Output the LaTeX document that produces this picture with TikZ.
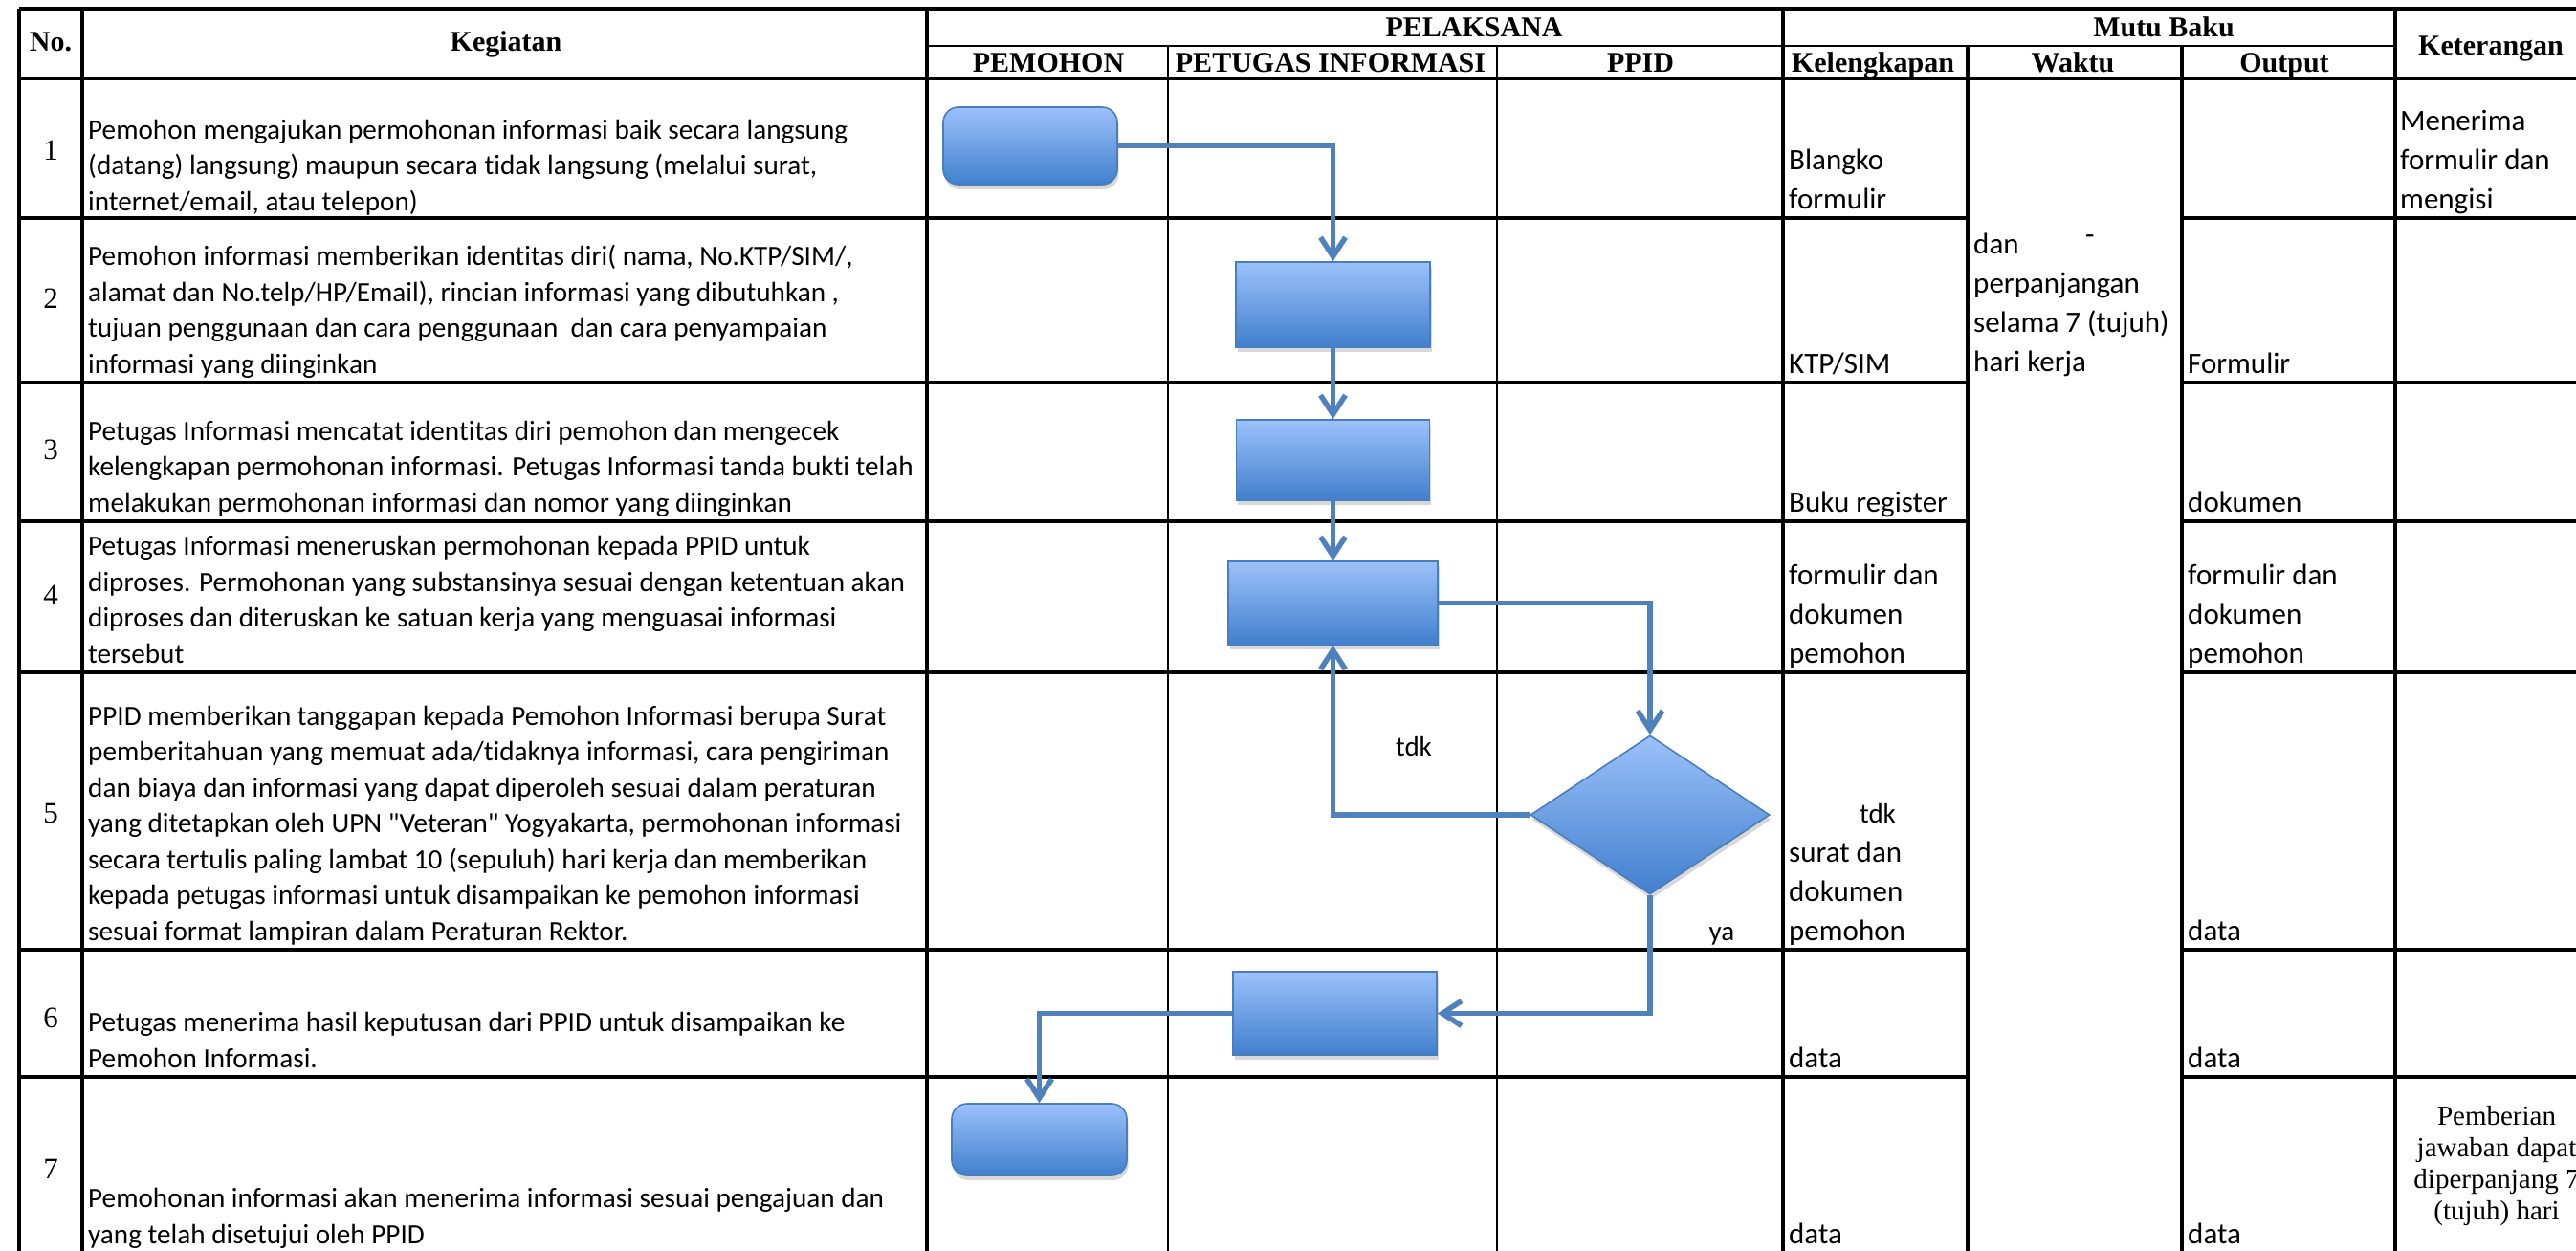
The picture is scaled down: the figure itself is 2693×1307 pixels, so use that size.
\documentclass[tikz,border=0pt]{standalone}
\usepackage{fontspec}
\setmainfont{Carlito}
\newfontfamily\calib{Carlito}[Ligatures=CommonOff]
\newfontfamily\tnr{Liberation Serif}
\usetikzlibrary{arrows.meta,shapes.geometric,shadows}
\definecolor{boxtop}{RGB}{155,193,250}
\definecolor{boxbot}{RGB}{65,127,205}
\definecolor{boxline}{RGB}{74,126,187}
\definecolor{arrowc}{RGB}{79,129,189}
\begin{document}
\begin{tikzpicture}[x=1pt,y=-1pt,
  gridline/.style={line width=3.5pt, black},
  thingrid/.style={line width=2.4pt, black},
  keg/.style={font=\calib\fontsize{29.2}{37.5}\selectfont, align=left, anchor=base west, inner sep=0pt},
  mutu/.style={font=\calib\fontsize{31}{41}\selectfont, align=left, anchor=base west, inner sep=0pt},
  hdr/.style={font=\tnr\bfseries\fontsize{30}{36}\selectfont, anchor=base, inner sep=0pt},
  num/.style={font=\tnr\fontsize{31}{36}\selectfont, anchor=center, inner sep=0pt},
  ket/.style={font=\tnr\fontsize{29}{33}\selectfont, align=center, anchor=base, inner sep=0pt},
  lbl/.style={font=\calib\fontsize{29}{35}\selectfont, anchor=base, inner sep=0pt},
  procbox/.style={rectangle, draw=boxline, line width=1.6pt, top color=boxtop, bottom color=boxbot,
    drop shadow={shadow xshift=1.5pt, shadow yshift=-5pt, opacity=0.3}, inner sep=0pt},
  roundbox/.style={procbox, rounded corners=16pt},
  decbox/.style={diamond, draw=boxline, line width=1.6pt, top color=boxtop, bottom color=boxbot,
    drop shadow={shadow xshift=1.5pt, shadow yshift=-5pt, opacity=0.3}, inner sep=0pt,
    aspect=1.506, minimum width=250pt, minimum height=166pt},
  conn/.style={draw=arrowc, line width=5.5pt, -{Straight Barb[length=20pt,width=26pt]}}
]
\useasboundingbox (0,0) rectangle (2693,1307);
\fill[white] (0,0) rectangle (2693,1307);
\begin{scope}
\clip (0,0) rectangle (2693,1307);
% ---- table grid ----
\draw[gridline] (20,9) -- (2720,9);
\draw[thingrid] (969,48) -- (2504,48);
\draw[gridline] (20,82) -- (2720,82);
\foreach \yy in {228,400,545,703,993,1126}{
  \draw[gridline] (20,\yy) -- (2057,\yy);
  \draw[gridline] (2281,\yy) -- (2720,\yy);
}
\draw[gridline] (20,9) -- (20,1330);
\draw[gridline] (86,9) -- (86,1330);
\draw[gridline] (969,9) -- (969,1330);
\draw[thingrid] (1221,48) -- (1221,1330);
\draw[thingrid] (1565,48) -- (1565,1330);
\draw[gridline] (1864,9) -- (1864,1330);
\draw[gridline] (2057,48) -- (2057,1330);
\draw[gridline] (2281,48) -- (2281,1330);
\draw[gridline] (2504,9) -- (2504,1330);
% ---- headers ----
\node[hdr] (hno) at (53,53) {No.};
\node[hdr] (hkeg) at (529,53) {Kegiatan};
\node[hdr] (hpel) at (1541,38) {PELAKSANA};
\node[hdr] (hpem) at (1096,75) {PEMOHON};
\node[hdr] (hpet) at (1391,75) {PETUGAS INFORMASI};
\node[hdr] (hppid) at (1715,75) {PPID};
\node[hdr] (hmutu) at (2262,38) {Mutu Baku};
\node[hdr] (hkel) at (1958,75) {Kelengkapan};
\node[hdr] (hwak) at (2167,75) {Waktu};
\node[hdr] (hout) at (2388,75) {Output};
\node[hdr] (hket) at (2604,57) {Keterangan};
% ---- row numbers ----
\node[num] (n1) at (53,157) {1};
\node[num] (n2) at (53,312) {2};
\node[num] (n3) at (53,470) {3};
\node[num] (n4) at (53,622) {4};
\node[num] (n5) at (53,850) {5};
\node[num] (n6) at (53,1064) {6};
\node[num] (n7) at (53,1222) {7};
% ---- kegiatan (anchor = baseline of last line) ----
\node[keg] (k1) at (92,220) {Pemohon mengajukan permohonan informasi baik secara langsung\\(datang) langsung) maupun secara tidak langsung (melalui surat,\\internet/email, atau telepon)};
\node[keg] (k2) at (92,390) {Pemohon informasi memberikan identitas diri( nama, No.KTP/SIM/,\\alamat dan No.telp/HP/Email), rincian informasi yang dibutuhkan ,\\tujuan penggunaan dan cara penggunaan\ \ dan cara penyampaian\\informasi yang diinginkan};
\node[keg] (k3) at (92,535) {Petugas Informasi mencatat identitas diri pemohon dan mengecek\\kelengkapan permohonan informasi. Petugas Informasi tanda bukti telah\\melakukan permohonan informasi dan nomor yang diinginkan};
\node[keg] (k4) at (92,693) {Petugas Informasi meneruskan permohonan kepada PPID untuk\\diproses. Permohonan yang substansinya sesuai dengan ketentuan akan\\diproses dan diteruskan ke satuan kerja yang menguasai informasi\\tersebut};
\node[keg] (k5) at (92,983) {PPID memberikan tanggapan kepada Pemohon Informasi berupa Surat\\pemberitahuan yang memuat ada/tidaknya informasi, cara pengiriman\\dan biaya dan informasi yang dapat diperoleh sesuai dalam peraturan\\yang ditetapkan oleh UPN "Veteran" Yogyakarta, permohonan informasi\\secara tertulis paling lambat 10 (sepuluh) hari kerja dan memberikan\\kepada petugas informasi untuk disampaikan ke pemohon informasi\\sesuai format lampiran dalam Peraturan Rektor.};
\node[keg] (k6) at (92,1116) {Petugas menerima hasil keputusan dari PPID untuk disampaikan ke\\Pemohon Informasi.};
\node[keg] (k7) at (92,1300) {Pemohonan informasi akan menerima informasi sesuai pengajuan dan\\yang telah disetujui oleh PPID};
% ---- kelengkapan ----
\node[mutu] (c1) at (1870,218) {Blangko\\formulir};
\node[mutu] (c2) at (1870,390) {KTP/SIM};
\node[mutu] (c3) at (1870,535) {Buku register};
\node[mutu] (c4) at (1870,693) {formulir dan\\dokumen\\pemohon};
\node[lbl] (ctdk) at (1963,860) {tdk};
\node[mutu] (c5) at (1870,983) {surat dan\\dokumen\\pemohon};
\node[mutu] (c6) at (1870,1116) {data};
\node[mutu] (c7) at (1870,1300) {data};
% ---- waktu ----
\node[mutu] (wdash) at (2180,255) {-};
\node[mutu] (w1) at (2063,388) {dan\\perpanjangan\\selama 7 (tujuh)\\hari kerja};
% ---- output ----
\node[mutu] (o2) at (2287,390) {Formulir};
\node[mutu] (o3) at (2287,535) {dokumen};
\node[mutu] (o4) at (2287,693) {formulir dan\\dokumen\\pemohon};
\node[mutu] (o5) at (2287,983) {data};
\node[mutu] (o6) at (2287,1116) {data};
\node[mutu] (o7) at (2287,1300) {data};
% ---- keterangan ----
\node[mutu] (t1) at (2509,218) {Menerima\\formulir dan\\mengisi};
\node[ket] (t7) at (2610,1275) {Pemberian\\jawaban dapat\\diperpanjang 7\\(tujuh) hari};
% ---- flowchart ----
\node[roundbox, minimum width=182pt, minimum height=81pt] (b1) at (1077,152.5) {};
\node[procbox, minimum width=203pt, minimum height=89pt] (b2) at (1393.5,318.5) {};
\node[procbox, minimum width=202pt, minimum height=84pt] (b3) at (1393.5,481) {};
\node[procbox, minimum width=219pt, minimum height=87pt] (b4) at (1393.5,630.5) {};
\node[decbox] (d) at (1725,852) {};
\node[procbox, minimum width=213pt, minimum height=87pt] (b6) at (1395.5,1059.5) {};
\node[roundbox, minimum width=183pt, minimum height=75pt] (b7) at (1086.5,1191.5) {};
\draw[conn] (b1.east) -| (b2.north);
\draw[conn] (b2.south) -- (b3.north);
\draw[conn] (b3.south) -- (b4.north);
\draw[conn] (b4.east) -| (d.north);
\draw[conn] (d.west) -| (b4.south);
\draw[conn] (d.south) |- (b6.east);
\draw[conn] (b6.west) -| (b7.north);
\node[lbl] (ltdk) at (1478,790) {tdk};
\node[lbl] (lya) at (1800,983) {ya};
\end{scope}
\end{tikzpicture}
\end{document}
